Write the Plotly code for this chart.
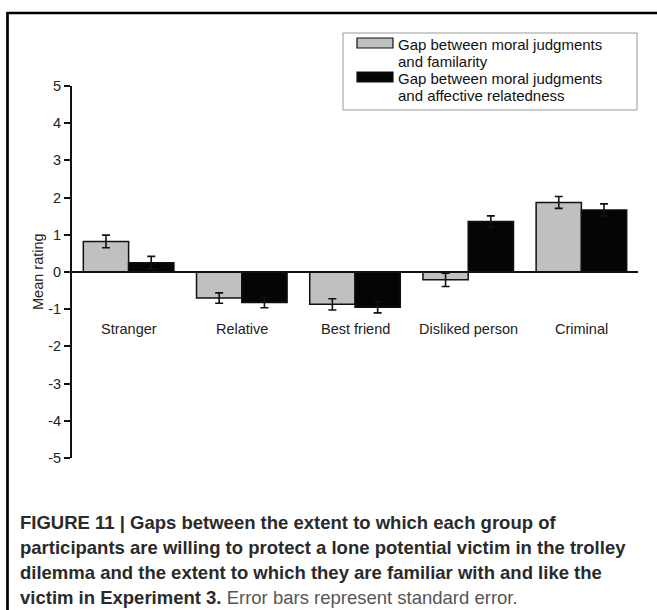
import plotly.graph_objects as go

categories = ["Stranger", "Relative", "Best friend", "Disliked person", "Criminal"]
series_names = ["Gap between moral judgments<br>and familarity",
                "Gap between moral judgments<br>and affective relatedness"]
familiarity_gap = [0.82, -0.70, -0.87, -0.21, 1.87]
familiarity_se = [0.17, 0.14, 0.15, 0.18, 0.16]
affective_gap = [0.25, -0.82, -0.95, 1.36, 1.67]
affective_se = [0.17, 0.14, 0.15, 0.15, 0.16]
y_ticks = [5, 4, 3, 2, 1, 0, -1, -2, -3, -4, -5]
y_tick_labels = [str(v) for v in y_ticks]
caption_lines = [
    "<b>FIGURE 11 | Gaps between the extent to which each group of</b>",
    "<b>participants are willing to protect a lone potential victim in the trolley</b>",
    "<b>dilemma and the extent to which they are familiar with and like the</b>",
    "<b>victim in Experiment 3.</b> <span style='color:#555'>Error bars represent standard error.</span>",
]

W, H = 657, 610
L, R, T, B = 72, 19, 86, 152
pw, ph = W - L - R, H - T - B

def px(x):
    return (x - L) / pw

def py(y):
    return (H - B - y) / ph

fills = ["#c0c0c0", "#050505"]
fig = go.Figure()
for name, vals, se, fill in [(series_names[0], familiarity_gap, familiarity_se, fills[0]),
                             (series_names[1], affective_gap, affective_se, fills[1])]:
    fig.add_trace(go.Bar(
        x=categories, y=vals, name=name,
        marker=dict(color=fill, line=dict(color="#111", width=1.5)),
        error_y=dict(type="data", array=se, visible=True, color="#111",
                     thickness=1.6, width=4),
        showlegend=False,
    ))

fig.update_layout(
    width=W, height=H,
    margin=dict(l=L, r=R, t=T, b=B, autoexpand=False),
    paper_bgcolor="white", plot_bgcolor="white",
    barmode="group", bargap=0.2, bargroupgap=0,
    font=dict(family="Liberation Sans, Arial, sans-serif", size=14.5, color="#222"),
    xaxis=dict(range=[-0.5, 4.5], anchor="free", position=0.5,
               showline=True, linecolor="#111", linewidth=1.5,
               ticks="", showticklabels=False, showgrid=False, zeroline=False),
    yaxis=dict(range=[-5, 5], tickvals=y_ticks, ticktext=y_tick_labels,
               showline=True, linecolor="#111", linewidth=2,
               ticks="outside", ticklen=6, tickwidth=1.5, tickcolor="#111",
               showgrid=False, zeroline=False,
               tickfont=dict(size=14.5, color="#222")),
)

ann = []
for c in categories:
    ann.append(dict(x=c, xref="x", y=0.5, yref="paper", yanchor="top", yshift=-47,
                    text=c, showarrow=False, font=dict(size=14.5, color="#222")))
ann.append(dict(x=px(38), y=0.5, xref="paper", yref="paper", text="Mean rating",
                textangle=-90, showarrow=False, xanchor="center", yanchor="middle",
                font=dict(size=14.5, color="#222")))
shapes = []
shapes.append(dict(type="rect", xref="paper", yref="paper",
                   x0=px(343), x1=px(637), y0=py(110), y1=py(33),
                   line=dict(color="#999", width=1), fillcolor="white"))
for i, (name, fill) in enumerate(zip(series_names, fills)):
    cy = 43 + 34 * i
    shapes.append(dict(type="rect", xref="paper", yref="paper",
                       x0=px(357), x1=px(393), y0=py(cy + 5), y1=py(cy - 5),
                       line=dict(color="#111", width=1.2), fillcolor=fill))
    for j, part in enumerate(name.split("<br>")):
        ann.append(dict(x=px(396), y=py(cy + 1 + 17.5 * j), xref="paper", yref="paper",
                        xanchor="left", yanchor="middle", align="left", text=part,
                        showarrow=False, font=dict(size=15, color="#111")))
for i, line in enumerate(caption_lines):
    ann.append(dict(x=px(18), y=py(522 + 25 * i), xref="paper", yref="paper",
                    xanchor="left", yanchor="middle", align="left", text=line,
                    showarrow=False, font=dict(size=18.5, color="#2a2a2a")))
shapes.append(dict(type="line", xref="paper", yref="paper",
                   x0=px(7.5), x1=px(7.5), y0=py(13), y1=py(640),
                   line=dict(color="black", width=2.7)))
shapes.append(dict(type="line", xref="paper", yref="paper",
                   x0=px(6.2), x1=px(680), y0=py(13), y1=py(13),
                   line=dict(color="black", width=2.7)))

fig.update_layout(annotations=ann, shapes=shapes)
fig.write_html("out.html", config={"displayModeBar": False},
               post_script="document.body.style.margin='0';document.body.style.overflow='hidden';")
